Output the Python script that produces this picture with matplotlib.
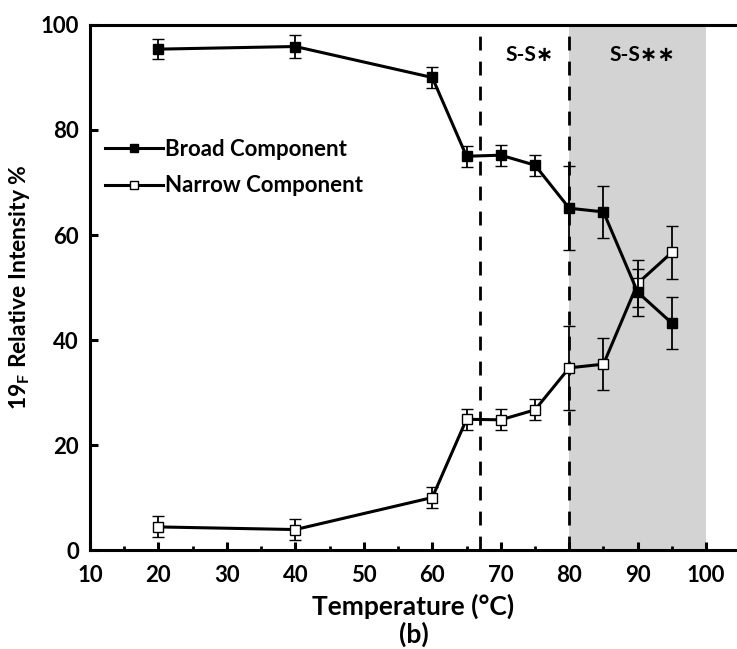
import matplotlib.pyplot as plt
from matplotlib.lines import Line2D
from matplotlib.ticker import MultipleLocator

plt.rcParams['font.family'] = ['Lato', 'DejaVu Sans']
plt.rcParams['font.weight'] = 'bold'
plt.rcParams['mathtext.fontset'] = 'custom'
plt.rcParams['mathtext.bf'] = 'Lato:bold'
plt.rcParams['mathtext.rm'] = 'Lato:bold'

# === data ===
temp = [20, 40, 60, 65, 70, 75, 80, 85, 90, 95]
broad = [95.4, 95.9, 90.0, 75.0, 75.2, 73.3, 65.1, 64.4, 49.1, 43.2]
broad_err = [1.9, 2.1, 2.0, 2.0, 2.0, 2.0, 8.0, 5.0, 4.5, 5.0]
narrow = [4.4, 3.9, 10.0, 24.9, 24.8, 26.7, 34.7, 35.4, 50.8, 56.7]
narrow_err = [2.0, 2.0, 2.0, 2.0, 2.0, 2.0, 8.0, 5.0, 4.5, 5.0]

phase_lines = [67, 80]
shade_range = (80, 100)

fig = plt.figure(figsize=(7.37, 6.49), dpi=100)
ax = fig.add_axes([0.122, 0.1525, 0.878, 0.809])

ax.axvspan(*shade_range, color='#d3d3d3', zorder=0, lw=0)
for xv in phase_lines:
    ax.axvline(xv, color='black', ls=(0, (5, 4)), lw=2, zorder=1)

style = dict(color='black', lw=2.2, marker='s', ms=7.5, mec='black', mew=1,
             ecolor='black', elinewidth=1.3, capsize=4.5, capthick=1.3)
ax.errorbar(temp, narrow, yerr=narrow_err, mfc='white', zorder=3, **style)
ax.errorbar(temp, broad, yerr=broad_err, mfc='black', zorder=4, **style)

ax.text(74.2, 94.3, 'S-S\u2217', ha='center', va='center', fontsize=15, fontweight='bold')
ax.text(90.7, 94.3, 'S-S\u2217\u2217', ha='center', va='center', fontsize=15, fontweight='bold')

ax.set_xlim(10, 104.5)
ax.set_ylim(0, 100)
ax.set_xticks(range(10, 101, 10))
ax.xaxis.set_minor_locator(MultipleLocator(5))
ax.yaxis.set_major_locator(MultipleLocator(20))
ax.tick_params(which='major', direction='in', length=6, width=2.2, labelsize=16)
ax.tick_params(axis='x', pad=11)
ax.tick_params(axis='y', pad=8)
ax.tick_params(which='minor', direction='in', length=3, width=2)
ax.tick_params(axis='y', which='minor', left=False)

for s in ['left', 'bottom', 'top']:
    ax.spines[s].set_linewidth(2.2)
ax.spines['right'].set_visible(False)

ax.set_xlabel('Temperature (°C)\n(b)', fontsize=19, fontweight='bold', labelpad=5, linespacing=1.15)
ax.set_ylabel(r'19$_{\mathbf{F}}$ Relative Intensity %', fontsize=16.5, fontweight='bold', labelpad=6)

handles = [Line2D([], [], color='black', lw=2.2, marker='s', ms=6, mfc='black', mec='black', mew=1),
           Line2D([], [], color='black', lw=2.2, marker='s', ms=6, mfc='white', mec='black', mew=1)]
ax.legend(handles, ['Broad Component', 'Narrow Component'], loc='upper left',
          bbox_to_anchor=(0.01, 0.80), frameon=False, fontsize=16, handlelength=2.6,
          handletextpad=0.1, labelspacing=0.7, borderaxespad=0.2, borderpad=0.2)

fig.savefig('out.png', dpi=100)
